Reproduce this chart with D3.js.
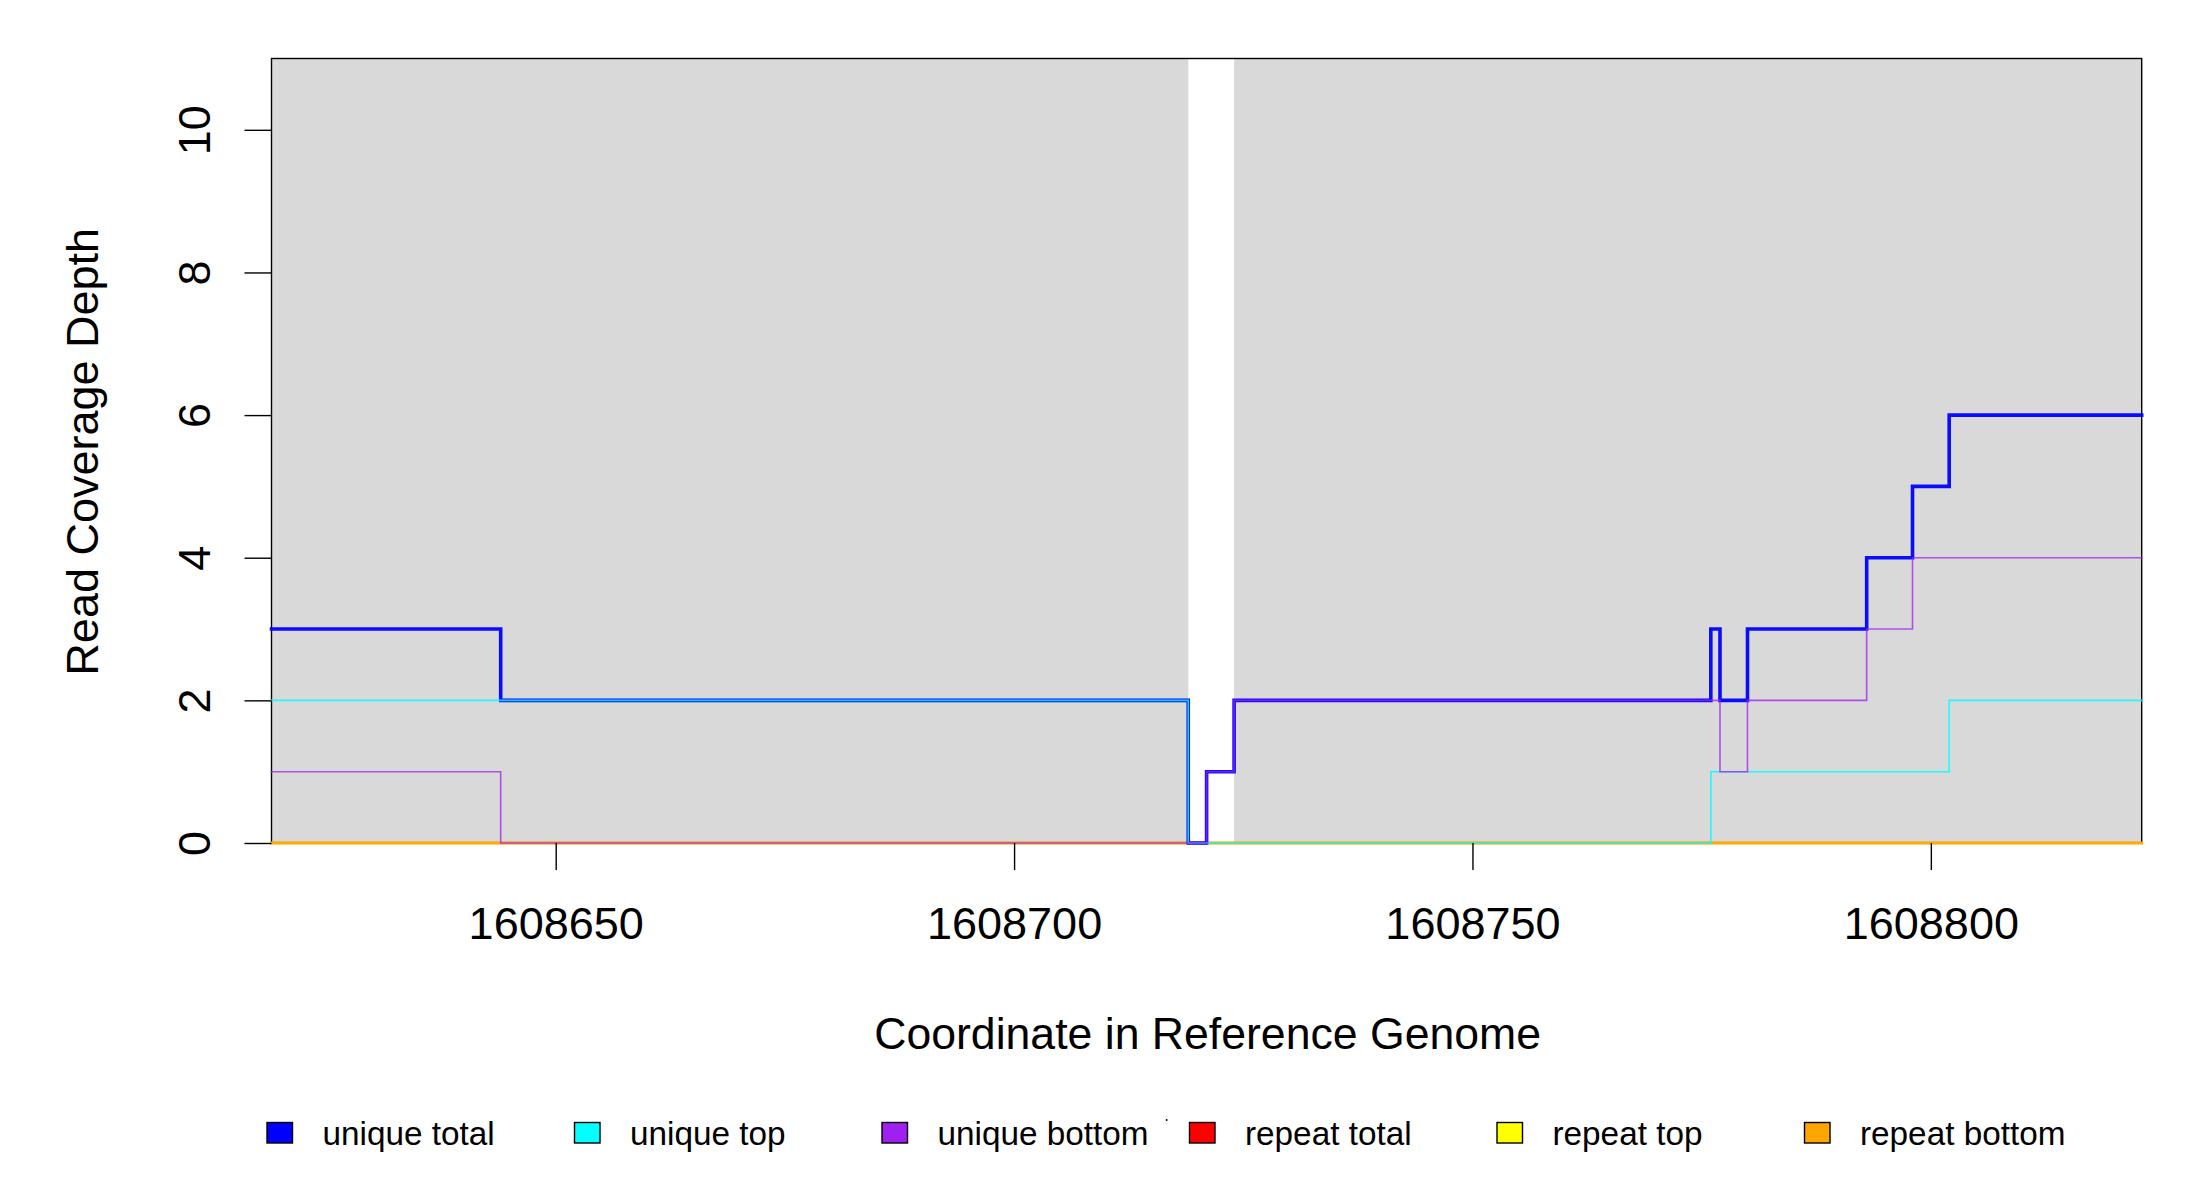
<!DOCTYPE html>
<html>
<head>
<meta charset="utf-8">
<script src="https://cdn.jsdelivr.net/npm/d3@7"></script>
<style>
  html, body { margin: 0; padding: 0; background: #ffffff; }
  svg { display: block; }
  text { font-family: "Liberation Sans", Arial, Helvetica, sans-serif; fill: #000; }
</style>
</head>
<body>
<svg id="chart" width="2200" height="1200"></svg>
<script>
// ---- data ----
const positions = [1608619, 1608644, 1608719, 1608721, 1608724, 1608776, 1608777, 1608780, 1608793, 1608798, 1608802, 1608823];
const uniqueTotal  = [3, 2, 0, 1, 2, 3, 2, 3, 4, 5, 6];
const uniqueTop    = [2, 2, 0, 0, 0, 1, 1, 1, 1, 1, 2];
const uniqueBottom = [1, 0, 0, 1, 2, 2, 1, 2, 3, 4, 4];
const repeatTotal  = [0, 0, 0, 0, 0, 0, 0, 0, 0, 0, 0];
const repeatTop    = [0, 0, 0, 0, 0, 0, 0, 0, 0, 0, 0];
const repeatBottom = [0, 0, 0, 0, 0, 0, 0, 0, 0, 0, 0];
const shadedStarts = [1608619, 1608724];
const shadedEnds   = [1608719, 1608823];
const xTicks = [1608650, 1608700, 1608750, 1608800];
const yTicks = [0, 2, 4, 6, 8, 10];
const legendLabels = ["unique total", "unique top", "unique bottom", "repeat total", "repeat top", "repeat bottom"];
const legendColors = ["#0000FF", "#00FFFF", "#A020F0", "#FF0000", "#FFFF00", "#FFA500"];
const xDomain = [1608619, 1608823];
const yDomain = [0, 11];

// ---- layout ----
const svg = d3.select("#chart");
const pLeft = 271.5, pRight = 2141.7, pTop = 58.5, pBottom = 843;
const x = d3.scaleLinear().domain(xDomain).range([pLeft, pRight]);
const y = d3.scaleLinear().domain(yDomain).range([pBottom, pTop]);

// shaded regions
svg.append("g").selectAll("rect")
  .data(shadedStarts.map((s, i) => ({ s, e: shadedEnds[i] })))
  .join("rect")
  .attr("x", d => x(d.s))
  .attr("width", d => x(d.e) - x(d.s))
  .attr("y", y(yDomain[1]))
  .attr("height", y(yDomain[0]) - y(yDomain[1]))
  .attr("fill", "#D9D9D9");

// box
svg.append("rect")
  .attr("x", pLeft).attr("y", pTop)
  .attr("width", pRight - pLeft).attr("height", pBottom - pTop)
  .attr("fill", "none").attr("stroke", "#000").attr("stroke-width", 1.4);

// series lines
function stepData(vals) {
  const pts = positions.slice(0, -1).map((p, i) => [p, vals[i]]);
  pts.push([positions[positions.length - 1], vals[vals.length - 1]]);
  return pts;
}
const line = d3.line().x(d => x(d[0])).y(d => y(d[1])).curve(d3.curveStepAfter);
const series = [
  { vals: repeatTotal,  color: "#FF0000", w: 2.6, o: 0.85 },
  { vals: repeatTop,    color: "#FFFF00", w: 2.6, o: 0.85 },
  { vals: repeatBottom, color: "#FFA500", w: 2.6, o: 0.85 },
  { vals: uniqueTotal,  color: "#0000FF", w: 3.6, o: 0.95 },
  { vals: uniqueTop,    color: "#00FFFF", w: 1.6, o: 0.85 },
  { vals: uniqueBottom, color: "#A020F0", w: 1.6, o: 0.75 }
];
svg.append("g").selectAll("path")
  .data(series)
  .join("path")
  .attr("d", d => line(stepData(d.vals)))
  .attr("fill", "none")
  .attr("stroke", d => d.color)
  .attr("stroke-opacity", d => d.o)
  .attr("stroke-width", d => d.w)
  .attr("stroke-linejoin", "miter")
  .attr("stroke-linecap", "square");

// x axis
const xAxis = d3.axisBottom(x).tickValues(xTicks).tickFormat(d3.format("d")).tickSize(27).tickPadding(0);
const gx = svg.append("g").attr("transform", `translate(0,${pBottom})`).call(xAxis);
gx.select(".domain").remove();
gx.selectAll(".tick line").attr("stroke", "#000").attr("stroke-width", 1.4);
gx.selectAll(".tick text")
  .attr("y", 96).attr("dy", null)
  .style("font-size", "45px")
  .style("font-family", '"Liberation Sans", Arial, sans-serif');

// y axis
const yAxis = d3.axisLeft(y).tickValues(yTicks).tickSize(27).tickPadding(0);
const gy = svg.append("g").attr("transform", `translate(${pLeft},0)`).call(yAxis);
gy.select(".domain").remove();
gy.selectAll(".tick line").attr("stroke", "#000").attr("stroke-width", 1.4);
gy.selectAll(".tick text")
  .attr("x", null).attr("dy", null)
  .attr("text-anchor", "middle")
  .attr("transform", "translate(-62,0) rotate(-90)")
  .style("font-size", "45px")
  .style("font-family", '"Liberation Sans", Arial, sans-serif');

// axis titles
svg.append("text")
  .attr("x", (pLeft + pRight) / 2 + 1).attr("y", 1049)
  .attr("text-anchor", "middle")
  .style("font-size", "44.6px")
  .text("Coordinate in Reference Genome");
svg.append("text")
  .attr("transform", `translate(98,${(pTop + pBottom) / 2 + 1}) rotate(-90)`)
  .attr("text-anchor", "middle")
  .style("font-size", "45px")
  .text("Read Coverage Depth");

// legend
const lg = svg.append("g").selectAll("g")
  .data(legendLabels.map((l, i) => ({ l, c: legendColors[i], i })))
  .join("g")
  .attr("transform", d => `translate(${267 + d.i * 307.5},0)`);
lg.append("rect")
  .attr("x", 0).attr("y", 1122.5)
  .attr("width", 25.5).attr("height", 20.5)
  .attr("fill", d => d.c)
  .attr("stroke", "#000").attr("stroke-width", 1.4);
lg.append("text")
  .attr("x", 55.5).attr("y", 1144.5)
  .style("font-size", "33.3px")
  .text(d => d.l);
// tiny stray mark seen in the legend row
svg.append("circle").attr("cx", 1166.7).attr("cy", 1120).attr("r", 1).attr("fill", "#000");
</script>
</body>
</html>
